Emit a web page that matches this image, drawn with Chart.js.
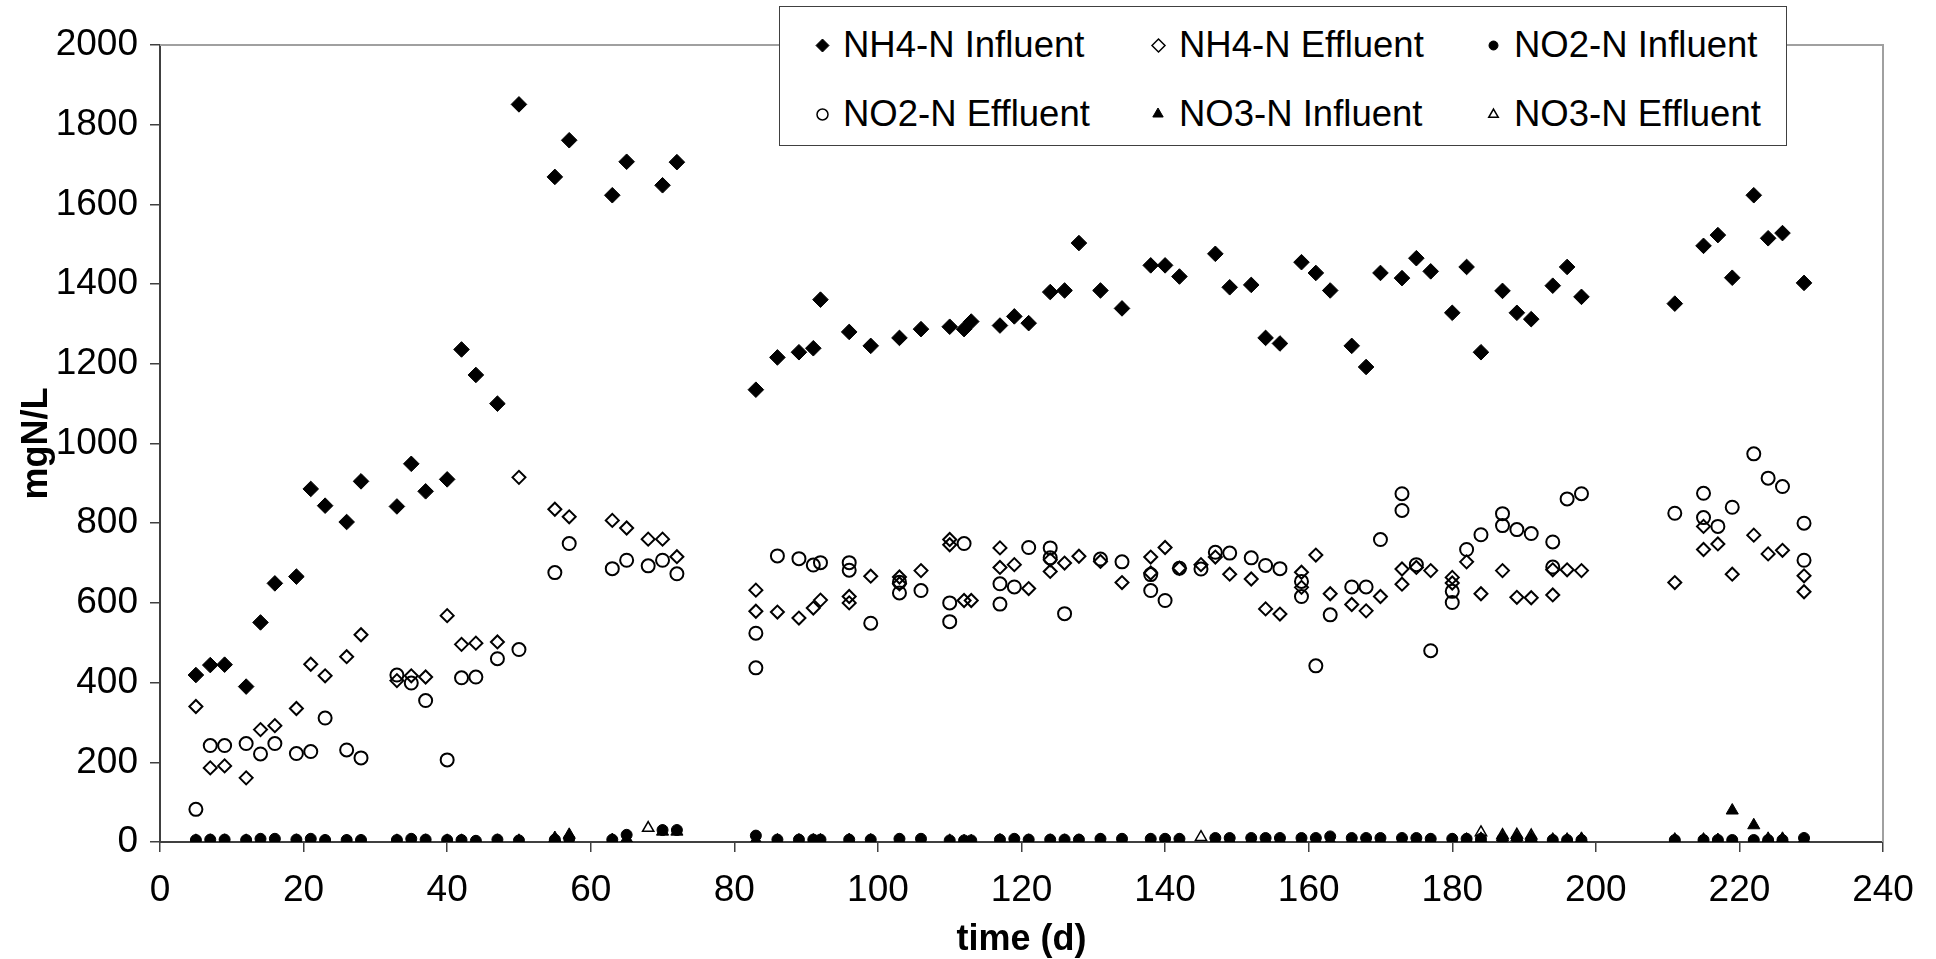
<!DOCTYPE html>
<html>
<head>
<meta charset="utf-8">
<title>Nitrogen species - influent / effluent</title>
<script src="https://cdn.jsdelivr.net/npm/chart.js@4.4.0/dist/chart.umd.min.js"></script>
<style>
    body { margin: 0; background: #fff; }
    #wrap { position: relative; width: 1936px; height: 959px; }
    #legendBox {
        position: absolute; left: 779px; top: 6px; width: 1008px; height: 140px;
        box-sizing: border-box; border: 1.5px solid #404040; background: #fff;
        font-family: "Liberation Sans", Arial, sans-serif; font-size: 36.5px; color: #000;
    }
    .legend-item { position: absolute; height: 40px; line-height: 40px; white-space: nowrap; }
    .legend-item svg { position: absolute; }
</style>
</head>
<body>
<div id="wrap">
    <canvas id="nitrogenChart" width="1936" height="959"></canvas>
    <div id="legendBox"></div>
</div>
<script>
// sampling days (d) for the influent series
const influentDays = [5, 7, 9, 12, 14, 16, 19, 21, 23, 26, 28,
    33, 35, 37, 40, 42, 44, 47, 50,
    55, 57, 63, 65, 70, 72,
    83, 86, 89, 91, 92, 96, 99,
    103, 106, 110, 112, 113, 117, 119, 121, 124, 126, 128,
    131, 134, 138, 140, 142, 147, 149,
    152, 154, 156, 159, 161, 163, 166, 168, 170,
    173, 175, 177, 180, 182, 184, 187, 189, 191,
    194, 196, 198,
    211, 215, 217, 219, 222, 224, 226, 229];

const nh4Influent = [419, 444, 445, 390, 551, 649, 666, 886, 844, 803, 905,
    842, 949, 880, 910, 1236, 1172, 1100, 1851,
    1669, 1761, 1623, 1707, 1648, 1706,
    1135, 1216, 1229, 1239, 1361, 1280, 1245,
    1265, 1287, 1293, 1287, 1306, 1296, 1319, 1302, 1380, 1384, 1503,
    1384, 1339, 1447, 1447, 1419, 1476, 1392,
    1398, 1265, 1251, 1455, 1428, 1384, 1245, 1192, 1428,
    1415, 1465, 1432, 1328, 1443, 1229, 1383, 1328, 1312,
    1396, 1443, 1368,
    1351, 1496, 1523, 1416, 1623, 1515, 1528, 1403];

const no2Influent = [5, 6, 6, 5, 8, 8, 6, 8, 5, 5, 5,
    5, 8, 6, 5, 5, 3, 6, 4,
    6, 8, 6, 18, 30, 30,
    16, 6, 6, 6, 6, 6, 6,
    8, 8, 4, 4, 4, 6, 8, 6, 6, 6, 6,
    8, 8, 8, 8, 8, 10, 10,
    10, 10, 10, 10, 10, 14, 10, 10, 10,
    10, 10, 8, 8, 8, 8, 8, 8, 6,
    5, 5, 5,
    5, 5, 5, 5, 5, 5, 5, 10];

const no3Influent = [3, 3, 3, 3, 3, 3, 3, 3, 2, 2, 2,
    3, 3, 3, 3, 3, 0, 3, 3,
    10, 18, 5, 8, 26, 26,
    5, 4, 4, 4, 4, 5, 4,
    3, 3, 3, 2, 2, 4, 3, 3, 3, 3, 3,
    4, 4, 4, 3, 3, 4, 4,
    4, 4, 4, 4, 4, 4, 4, 4, 4,
    4, 4, 4, 4, 6, 8, 12, 12, 10,
    6, 6, 8,
    6, 6, 5, 79, 42, 8, 8, 6];

// effluent samples (some days were measured twice)
const nh4EffluentDays = [5, 7, 9, 12, 14, 16, 19, 21, 23, 26, 28,
    33, 35, 37, 40, 42, 44, 47, 50,
    55, 57, 63, 65, 68, 70, 72,
    83, 83, 86, 89, 91, 92, 96, 96, 99,
    103, 103, 106, 110, 110, 112, 113, 117, 117, 119, 121, 124, 124, 126, 128,
    131, 134, 138, 138, 140, 142, 145, 147, 149,
    152, 154, 156, 159, 159, 161, 163, 166, 168, 170,
    173, 173, 175, 177, 180, 180, 182, 184, 187, 189, 191,
    194, 194, 196, 198,
    211, 215, 215, 217, 219, 222, 224, 226, 229, 229];

const nh4Effluent = [340, 186, 191, 161, 282, 292, 335, 446, 417, 465, 520,
    405, 417, 414, 568, 496, 499, 502, 915,
    835, 816, 807, 788, 760, 760, 716,
    632, 579, 577, 562, 587, 607, 616, 600, 667,
    665, 648, 681, 759, 746, 606, 606, 738, 689, 696, 636, 708, 679, 700, 717,
    704, 651, 715, 675, 739, 687, 696, 715, 672,
    660, 585, 572, 677, 639, 720, 623, 596, 580, 616,
    685, 647, 689, 681, 664, 650, 703, 623, 681, 614, 613,
    683, 620, 683, 681,
    651, 792, 734, 748, 672, 770, 723, 732, 668, 628];

const no2EffluentDays = [5, 7, 9, 12, 14, 16, 19, 21, 23, 26, 28,
    33, 35, 37, 40, 42, 44, 47, 50,
    55, 57, 63, 65, 68, 70, 72,
    83, 83, 86, 89, 91, 92, 96, 96, 99,
    103, 103, 106, 110, 110, 112, 117, 117, 119, 121, 124, 124, 126,
    131, 134, 138, 138, 140, 142, 145, 147, 149,
    152, 154, 156, 159, 159, 161, 163, 166, 168, 170,
    173, 173, 175, 177, 180, 180, 182, 184, 187, 187, 189, 191,
    194, 194, 196, 198,
    211, 215, 215, 217, 219, 222, 224, 226, 229, 229];

const no2Effluent = [82, 242, 242, 247, 221, 247, 222, 227, 311, 231, 211,
    419, 399, 355, 206, 412, 414, 460, 483,
    676, 749, 686, 707, 693, 707, 673,
    524, 437, 718, 711, 695, 701, 701, 682, 549,
    652, 625, 631, 600, 553, 749, 648, 597, 640, 739, 738, 713, 573,
    710, 703, 671, 631, 606, 687, 685, 727, 725,
    713, 694, 686, 654, 616, 442, 570, 640, 640, 759,
    874, 832, 696, 480, 629, 601, 734, 771, 824, 794, 784, 774,
    753, 690, 861, 874,
    825, 875, 814, 792, 840, 974, 913, 892, 800, 707];

// only the NO3-N effluent points that are not hidden by other markers
const no3EffluentDays = [68, 145, 184, 187, 189, 191];
const no3Effluent = [35, 12, 24, 17, 18, 16];

const xTickValues = [0, 20, 40, 60, 80, 100, 120, 140, 160, 180, 200, 220, 240];
const yTickValues = [0, 200, 400, 600, 800, 1000, 1200, 1400, 1600, 1800, 2000];

const FONT_FAMILY = '"Liberation Sans", Arial, sans-serif';
const AXIS_COLOR = "#404040";

function toPoints(days, values) {
    return days.map((d, i) => ({ x: d, y: values[i] }));
}

function series(label, days, values, style, filled, radius, lineWidth) {
    return {
        label: label,
        data: toPoints(days, values),
        pointStyle: style,
        pointRadius: radius,
        pointBorderWidth: lineWidth,
        backgroundColor: filled ? "#000" : "rgba(0,0,0,0)",
        borderColor: "#000",
        showLine: false,
        legendFilled: filled,
    };
}

const datasets = [
    series("NH4-N Influent", influentDays, nh4Influent, "rectRot", true, 7.8, 1),
    series("NH4-N Effluent", nh4EffluentDays, nh4Effluent, "rectRot", false, 6.5, 2),
    series("NO2-N Influent", influentDays, no2Influent, "circle", true, 5.5, 1),
    series("NO2-N Effluent", no2EffluentDays, no2Effluent, "circle", false, 6.5, 2),
    series("NO3-N Influent", influentDays, no3Influent, "triangle", true, 7, 1),
    series("NO3-N Effluent", no3EffluentDays, no3Effluent, "triangle", false, 6.5, 1.5),
];

// grey frame on the top and right of the plot area
const plotFrame = {
    id: "plotFrame",
    beforeDatasetsDraw(chart) {
        const { ctx, chartArea: a } = chart;
        ctx.save();
        ctx.strokeStyle = "#a0a0a0";
        ctx.lineWidth = 2;
        ctx.beginPath();
        ctx.moveTo(a.left, a.top);
        ctx.lineTo(a.right, a.top);
        ctx.lineTo(a.right, a.bottom);
        ctx.stroke();
        ctx.restore();
    },
};

Chart.defaults.font.family = FONT_FAMILY;
Chart.defaults.font.size = 36;
Chart.defaults.color = "#000";

function axisOptions(tickValues, min, max, title, titlePadding, tickPadding) {
    return {
        type: "linear",
        min: min,
        max: max,
        afterBuildTicks: (scale) => {
            scale.ticks = tickValues.map((v) => ({ value: v }));
        },
        grid: {
            drawOnChartArea: false,
            drawTicks: true,
            tickLength: 10,
            color: AXIS_COLOR,
            lineWidth: 1.5,
        },
        border: { color: AXIS_COLOR, width: 2 },
        ticks: {
            padding: tickPadding,
            color: "#000",
            font: { size: 37 },
            maxRotation: 0,
            autoSkip: false,
            callback: (value) => String(value),
        },
        title: {
            display: true,
            text: title,
            color: "#000",
            font: { size: 36, weight: "bold", lineHeight: 1.05 },
            padding: titlePadding,
        },
    };
}

const xAxis = axisOptions(xTickValues, 0, 240, "time (d)", { top: 0, bottom: 0 }, 17);
xAxis.afterFit = (scale) => { scale.height = 117; };
const yAxis = axisOptions(yTickValues, 0, 2000, "mgN/L", { top: 18, bottom: 0 }, 12);
yAxis.afterFit = (scale) => { scale.width = 160; };

const chart = new Chart(document.getElementById("nitrogenChart").getContext("2d"), {
    type: "scatter",
    data: { datasets: datasets },
    options: {
        responsive: false,
        animation: false,
        events: [],
        layout: { padding: { top: 45, right: 53, left: 0, bottom: 0 } },
        plugins: {
            legend: { display: false },
            tooltip: { enabled: false },
        },
        scales: { x: xAxis, y: yAxis },
    },
    plugins: [plotFrame],
});

// legend box drawn as HTML, three columns by two rows
function markerSvg(style, filled, r) {
    const size = Math.ceil(2 * r + 6);
    const c = size / 2;
    const fill = filled ? "#000" : "#fff";
    const sw = filled ? 1 : 1.5;
    let shape;
    if (style === "rectRot") {
        shape = `<polygon points="${c - r},${c} ${c},${c - r} ${c + r},${c} ${c},${c + r}"/>`;
    } else if (style === "circle") {
        shape = `<circle cx="${c}" cy="${c}" r="${r}"/>`;
    } else {
        const h = r * Math.sin(2 * Math.PI / 3);
        shape = `<polygon points="${c},${c - r} ${c + h},${c + r / 2} ${c - h},${c + r / 2}"/>`;
    }
    return `<svg width="${size}" height="${size}" viewBox="0 0 ${size} ${size}">` +
        `<g fill="${fill}" stroke="#000" stroke-width="${sw}">${shape}</g></svg>`;
}

const legendMarkerSize = { rectRot: 6.5, circle: 5.5, triangle: 6 };
const legendColumnsX = [42, 378, 713];
const legendRowsY = [38, 107];
let legendBox = document.getElementById("legendBox");

datasets.forEach(function (ds, i) {
    let col = i % 3;
    let row = Math.floor(i / 3);
    let r = legendMarkerSize[ds.pointStyle];
    if (ds.pointStyle === "circle" && ds.legendFilled) r = 4.5;
    if (ds.pointStyle === "triangle" && !ds.legendFilled) r = 5.5;
    let size = Math.ceil(2 * r + 6);

    let item = document.createElement("div");
    item.className = "legend-item";
    item.style.left = (legendColumnsX[col] + 21) + "px";
    item.style.top = (legendRowsY[row] - 20) + "px";

    let marker = document.createElement("span");
    marker.innerHTML = markerSvg(ds.pointStyle, ds.legendFilled, r);
    let svg = marker.firstChild;
    svg.style.left = (-21 - size / 2) + "px";
    svg.style.top = (20 - size / 2) + "px";
    item.appendChild(svg);

    let text = document.createElement("span");
    text.textContent = ds.label;
    item.appendChild(text);

    legendBox.appendChild(item);
});
</script>
</body>
</html>
